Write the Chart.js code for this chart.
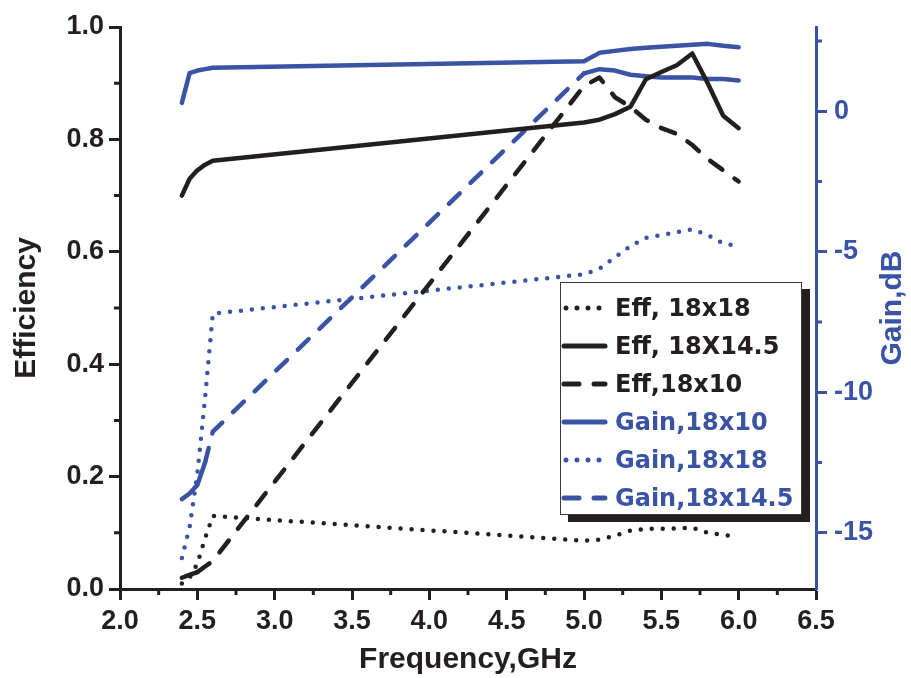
<!DOCTYPE html>
<html>
<head>
<meta charset="utf-8">
<title>Efficiency and gain vs frequency</title>
<script src="https://cdn.jsdelivr.net/npm/chart.js@4.4.1/dist/chart.umd.min.js"></script>
<style>
  body { margin: 0; background: #fff; }
  #wrap { position: relative; width: 911px; height: 678px; }
  #legend {
    position: absolute; left: 560px; top: 282px; width: 242px; height: 233px;
    box-sizing: border-box; padding-top: 6px;
    background: #fff; border: 1.5px solid #3a3a3a; box-shadow: 8px 7px 0 #231f20;
    font: bold 24px "DejaVu Sans", sans-serif;
  }
  .row { display: flex; align-items: center; height: 38px; white-space: nowrap; }
  .row svg { width: 48px; height: 12px; margin-right: 6px; flex: none; }
</style>
</head>
<body>
<div id="wrap">
  <canvas id="chart"></canvas>
  <div id="legend"></div>
</div>
<script>
// ---- data ----
const freq = [2.4, 2.45, 2.5, 2.55, 2.6, 5.0, 5.1, 5.2, 5.3, 5.4, 5.5, 5.6, 5.7, 5.8, 5.9, 6.0];

const eff18x18   = [0.01, 0.02, 0.045, 0.09, 0.13, 0.086, 0.088, 0.095, 0.104, 0.107, 0.107, 0.108, 0.109, 0.10, 0.096, 0.094];
const eff18x14_5 = [0.70, 0.73, 0.745, 0.755, 0.762, 0.83, 0.835, 0.845, 0.858, 0.907, 0.92, 0.932, 0.953, 0.90, 0.842, 0.82];
const eff18x10   = [0.02, 0.025, 0.03, 0.04, 0.05, 0.895, 0.91, 0.875, 0.858, 0.835, 0.82, 0.81, 0.79, 0.765, 0.745, 0.725];

const gain18x10   = [0.3, 1.36, 1.45, 1.5, 1.55, 1.78, 2.08, 2.15, 2.22, 2.26, 2.3, 2.33, 2.37, 2.4, 2.33, 2.28];
const gain18x18   = [-15.9, -14.8, -12.9, -10.2, -7.2, -5.8, -5.6, -5.2, -4.8, -4.5, -4.4, -4.3, -4.2, -4.4, -4.7, -4.8];
const gain18x14_5 = [-13.8, -13.6, -13.3, -12.5, -11.4, 1.35, 1.5, 1.45, 1.3, 1.25, 1.2, 1.2, 1.2, 1.15, 1.15, 1.1];

const freqTicks = [2.0, 2.5, 3.0, 3.5, 4.0, 4.5, 5.0, 5.5, 6.0, 6.5];
const effTicks  = [0.0, 0.2, 0.4, 0.6, 0.8, 1.0];
const gainTicks = [-15, -10, -5, 0];

const BLACK = '#231f20';
const BLUE = '#3a53a4';
const DOT = [0, 11];
const DASH = [15, 15];
const tickFont = { family: "'Liberation Sans', Arial, sans-serif", size: 27, weight: 'bold' };
const titleFont = { family: "'Liberation Sans', Arial, sans-serif", size: 30, weight: 'bold' };

const pts = (ys) => freq.map((f, i) => ({ x: f, y: ys[i] }));

// short segments in Origin come out solid even on dashed curves
const solidWhere = (test) => ({ borderDash: c => test(c.p0.parsed.x, c.p1.parsed.x) ? [] : undefined });

const series = [
  { label: 'Eff, 18x18',     data: eff18x18,    color: BLACK, dash: DOT,  axis: 'y' },
  { label: 'Eff, 18X14.5',   data: eff18x14_5,  color: BLACK, dash: [],   axis: 'y' },
  { label: 'Eff,18x10',      data: eff18x10,    color: BLACK, dash: DASH, axis: 'y',
    segment: solidWhere((a, b) => b <= 2.5) },
  { label: 'Gain,18x10',     data: gain18x10,   color: BLUE,  dash: [],   axis: 'y1' },
  { label: 'Gain,18x18',     data: gain18x18,   color: BLUE,  dash: DOT,  axis: 'y1' },
  { label: 'Gain,18x14.5',   data: gain18x14_5, color: BLUE,  dash: DASH, axis: 'y1',
    segment: solidWhere((a, b) => a >= 5 || b <= 2.55) },
];

// minor ticks halfway between the labelled ones, plus the right axis title
const extras = {
  id: 'extras',
  afterDraw(chart) {
    const ctx = chart.ctx;
    ['x', 'y', 'y1'].forEach(id => {
      const s = chart.scales[id];
      const vals = s.ticks.map(t => t.value);
      const step = vals[1] - vals[0];
      ctx.save();
      ctx.strokeStyle = s.options.border.color;
      ctx.lineWidth = 3;
      ctx.beginPath();
      for (let v = vals[0] - step / 2; v <= s.max + 1e-9; v += step) {
        if (v < s.min - 1e-9) continue;
        const p = s.getPixelForValue(v);
        if (id === 'x') { ctx.moveTo(p, s.top); ctx.lineTo(p, s.top + 6); }
        else if (id === 'y') { ctx.moveTo(s.right, p); ctx.lineTo(s.right - 6, p); }
        else { ctx.moveTo(s.left, p); ctx.lineTo(s.left + 6, p); }
      }
      ctx.stroke();
      ctx.restore();
    });
    const r = chart.scales.y1;
    const a = chart.chartArea;
    ctx.save();
    ctx.translate(r.right - 18, (a.top + a.bottom) / 2);
    ctx.rotate(-Math.PI / 2);
    ctx.fillStyle = BLUE;
    ctx.font = `bold ${titleFont.size}px ${titleFont.family}`;
    ctx.textAlign = 'center';
    ctx.textBaseline = 'middle';
    ctx.fillText('Gain,dB', 0, 0);
    ctx.restore();
  }
};

const axisStyle = (color, width, list) => ({
  afterBuildTicks: s => { s.ticks = list.map(v => ({ value: v })); },
  afterFit: s => { if (width) s.width = width; },
  border: { color, width: 3 },
  grid: { drawOnChartArea: false, tickLength: 11, tickColor: color, tickWidth: 3 },
});

new Chart(document.getElementById('chart'), {
  type: 'line',
  data: {
    datasets: series.map(s => ({
      label: s.label,
      data: pts(s.data),
      yAxisID: s.axis,
      borderColor: s.color,
      backgroundColor: s.color,
      borderWidth: 4.5,
      borderDash: s.dash,
      borderCapStyle: 'round',
      borderJoinStyle: 'round',
      pointRadius: 0,
      tension: 0,
      fill: false,
      segment: s.segment,
    }))
  },
  options: {
    responsive: true, maintainAspectRatio: false, animation: false,
    layout: { padding: { top: 27, left: 0, right: 0, bottom: 0 } },
    plugins: { legend: { display: false }, tooltip: { enabled: false } },
    scales: {
      x: {
        type: 'linear', min: 2, max: 6.5,
        ...axisStyle(BLACK, 0, freqTicks),
        afterFit: s => { s.height = 89; },
        ticks: { color: BLACK, font: tickFont, padding: 5, maxRotation: 0, callback: v => v.toFixed(1) },
        title: { display: true, text: 'Frequency,GHz', color: BLACK, font: titleFont, padding: { top: 0, bottom: 0 } },
      },
      y: {
        position: 'left', min: 0, max: 1,
        ...axisStyle(BLACK, 120, effTicks),
        ticks: { color: BLACK, font: tickFont, padding: 5, callback: v => v.toFixed(1) },
        title: { display: true, text: 'Efficiency', color: BLACK, font: titleFont, padding: { top: 9, bottom: 0 } },
      },
      y1: {
        position: 'right', min: -17, max: 3,
        ...axisStyle(BLUE, 95, gainTicks),
        ticks: { color: BLUE, font: tickFont, padding: 7, callback: v => String(v) },
      },
    }
  },
  plugins: [extras]
});

// legend box drawn over the plot, as in the figure
const legend = document.getElementById('legend');
series.forEach(s => {
  const row = document.createElement('div');
  row.className = 'row';
  row.style.color = s.color;
  const dash = s.dash.length ? s.dash.join(' ') : 'none';
  const off = s.dash === DASH ? 0 : -2;
  row.innerHTML = `<svg viewBox="0 0 48 12"><line x1="3" y1="6" x2="44" y2="6" stroke="${s.color}" stroke-width="5" stroke-linecap="round" stroke-dasharray="${dash}" stroke-dashoffset="${off}"/></svg>`;
  const txt = document.createElement('span');
  txt.textContent = s.label;
  row.appendChild(txt);
  legend.appendChild(row);
});
</script>
</body>
</html>
